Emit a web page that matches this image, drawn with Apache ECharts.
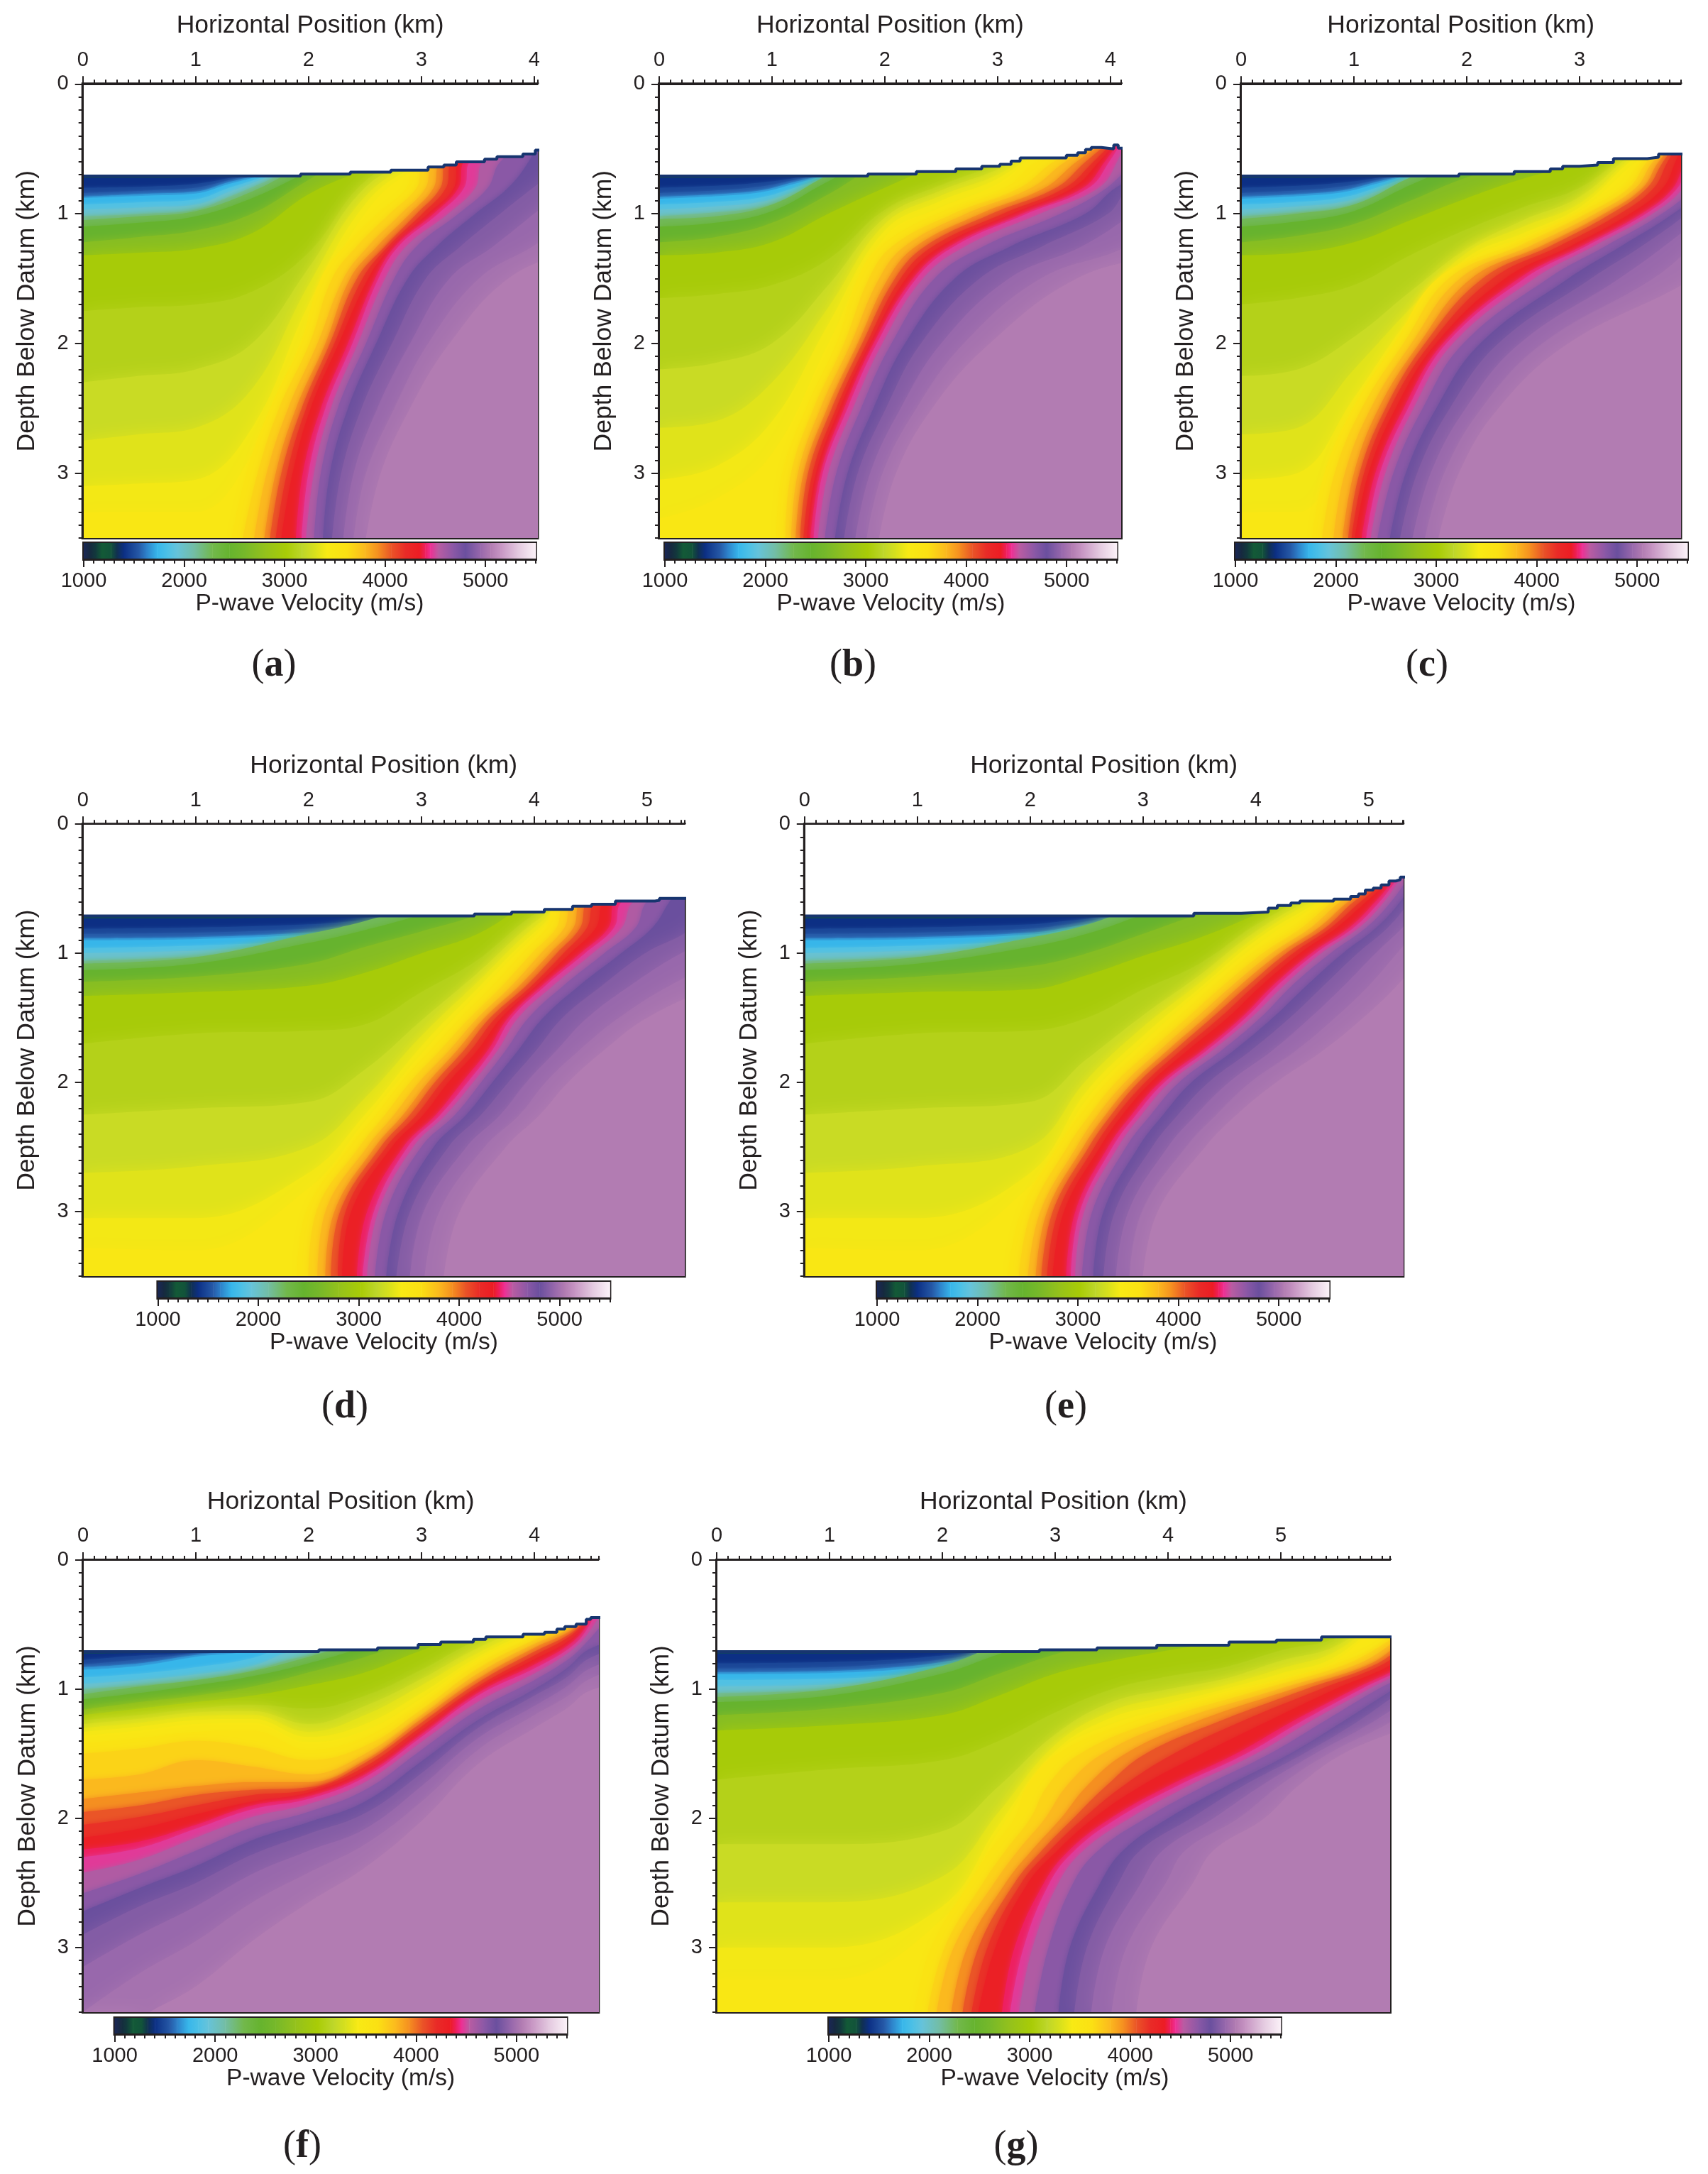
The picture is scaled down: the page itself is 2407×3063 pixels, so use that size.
<!DOCTYPE html>
<html>
<head>
<meta charset="utf-8">
<title>P-wave velocity models</title>
<script src="https://cdn.jsdelivr.net/npm/echarts@6/dist/echarts.min.js"></script>
<style>html,body{margin:0;background:#fff}#chart{width:2407px;height:3063px}</style>
</head>
<body>
<div id="chart"></div>
<script>
// colour scale of the velocity bar
var paletteV = [1000,1060,1120,1180,1270,1330,1400,1550,1620,1730,1830,1930,2100,2280,2450,2600,2800,3020,3170,3300,3420,3620,3800,3930,4060,4200,4340,4400,4450,4530,4680,4800,4950,5050,5150,5320,5500];
var paletteC = ['#1a2755','#16293f','#123a3c','#135a37','#12533a','#103050','#0c2f84','#265aa8','#2d7fc8','#37b6ea','#4cc0e6','#66c3da','#73bda4','#72b84c','#66b32e','#76b82a','#94c11c','#a9cc06','#bdd62a','#d8e01c','#f8ea14','#fbe013','#fbb91e','#f58f20','#ea5527','#e92b27','#ec1c24','#ee1f60','#ee2f94','#b95ca2','#8a58a6','#6a4f9e','#9868ac','#b27cb2','#c795c3','#e3c8df','#fbf2f8'];
var barTicks = [1000,2000,3000,4000,5000];
var depthTicks = [0,1,2,3];

// iso-velocity levels (m/s)
var upperLevels = [1400,1480,1550,1650,1730,1850,1950,2100];
var midLevels = [2250,2450,2700,3000,3100,3230,3330,3400,3480];
var frontLevels = [3560,3680,3800,3930,4060,4180,4300,4400,4470,4560,4680,4800,4880,4950,5000,5050];

// panel a: surface steps, then depth of each level per x, then x of each level per depth
var aSurfaceX = [0,1.93,2.37,2.73,3.06,3.2,3.31,3.56,3.67,3.9,4.01,4.07];
var aSurfaceD = [.71,.695,.68,.665,.64,.625,.6,.58,.56,.54,.51,.51];
var aUpperX = [0,.6,1,1.3,1.6,1.9];
var aUpperD = [[.725,.8,.84,.87,.88,.93,.97,1.02],[.725,.79,.82,.845,.86,.91,.95,1],[.72,.77,.8,.83,.845,.89,.93,.97],[.715,.725,.74,.755,.77,.8,.83,.87],[.66,.67,.68,.69,.7,.715,.73,.76],[.6,.6,.6,.6,.6,.6,.62,.65]];
var aMidX = [0,.5,1,1.5,2,2.5,3];
var aMidD = [[1.05,1.1,1.22,1.32,1.75,2.3,2.75,3.1,3.3],[1.02,1.07,1.18,1.3,1.72,2.25,2.7,3.08,3.3],[.98,1.02,1.13,1.27,1.7,2.2,2.65,3.05,3.3],[.83,.88,1,1.15,1.6,2,2.35,2.65,2.85],[.62,.68,.74,.85,1.3,1.42,1.55,1.7,1.85],[.5,.5,.5,.66,.75,.8,.87,.93,1],[.5,.5,.5,.5,.55,.58,.6,.62,.64]];
var aFrontD = [3.5,3,2.5,2,1.5,1.25,1,.8,.6];
var aFrontX = [[1.32,1.42,1.52,1.61,1.66,1.71,1.76,1.89,1.94,1.98,2.05,2.13,2.21,2.31,2.4,2.51],
[1.45,1.55,1.63,1.71,1.76,1.81,1.86,1.95,2,2.05,2.11,2.19,2.29,2.4,2.51,2.64],
[1.66,1.74,1.82,1.89,1.94,1.98,2.02,2.11,2.15,2.2,2.26,2.35,2.47,2.61,2.76,2.9],
[1.93,2.01,2.08,2.15,2.19,2.23,2.27,2.35,2.39,2.44,2.51,2.6,2.74,2.9,3.06,3.25],
[2.11,2.21,2.31,2.37,2.43,2.48,2.53,2.59,2.62,2.68,2.76,2.88,3.04,3.25,3.51,3.77],
[2.32,2.43,2.53,2.61,2.68,2.71,2.74,2.77,2.8,2.87,2.96,3.14,3.35,3.64,3.99,4.4],
[2.61,2.72,2.82,2.9,2.96,3.01,3.06,3.11,3.15,3.24,3.33,3.48,3.7,4,4.41,4.9],
[2.87,2.96,3.04,3.11,3.17,3.22,3.29,3.33,3.38,3.48,3.59,3.77,3.99,4.28,4.73,5.4],
[2.95,3.03,3.1,3.17,3.22,3.27,3.33,3.38,3.43,3.55,3.7,3.95,4.3,4.8,5.2,5.6]];

// panel b
var bSurfaceX = [0,1.85,2.28,2.63,2.86,3.02,3.12,3.2,3.61,3.71,3.78,3.83,3.92,4.03,4.07,4.12];
var bSurfaceD = [.71,.695,.675,.655,.635,.62,.595,.57,.55,.53,.505,.49,.5,.47,.495,.495];
var bUpperX = [0,.5,.9,1.2,1.5,1.8];
var bUpperD = [[.725,.8,.84,.87,.885,.93,.97,1.02],[.725,.785,.82,.85,.865,.91,.945,.99],[.72,.76,.79,.82,.835,.875,.91,.95],[.715,.725,.74,.755,.77,.8,.83,.87],[.66,.67,.68,.69,.695,.71,.73,.76],[.6,.6,.6,.6,.6,.6,.62,.65]];
var bMidX = [0,.5,1,1.5,2,2.5,3,3.5];
var bMidD = [[1.04,1.1,1.22,1.32,1.65,2.2,2.65,3.05,3.35],[1.02,1.07,1.18,1.3,1.62,2.15,2.6,2.95,3.2],[.93,.98,1.07,1.22,1.55,2,2.3,2.6,2.85],[.7,.75,.85,1,1.35,1.55,1.72,1.85,2],[.5,.55,.6,.8,.97,1.03,1.08,1.13,1.18],[.5,.5,.5,.62,.78,.82,.86,.9,.95],[.5,.5,.5,.5,.62,.66,.7,.73,.77],[.45,.45,.45,.45,.45,.45,.45,.45,.45]];
var bFrontD = [3.5,3,2.5,2,1.5,1.25,1,.8,.6];
var bFrontX = [[1.04,1.12,1.17,1.21,1.25,1.28,1.31,1.34,1.37,1.41,1.47,1.56,1.64,1.74,1.84,1.95],
[1.09,1.17,1.23,1.28,1.32,1.36,1.39,1.43,1.45,1.5,1.57,1.67,1.76,1.87,1.98,2.1],
[1.3,1.37,1.43,1.49,1.53,1.57,1.6,1.64,1.67,1.72,1.79,1.9,2.01,2.14,2.28,2.42],
[1.57,1.64,1.7,1.76,1.8,1.84,1.87,1.9,1.93,1.98,2.06,2.18,2.32,2.5,2.7,2.93],
[1.76,1.86,1.95,2.03,2.09,2.14,2.19,2.25,2.28,2.34,2.44,2.62,2.84,3.1,3.38,3.7],
[1.96,2.07,2.18,2.28,2.36,2.43,2.5,2.58,2.62,2.72,2.88,3.12,3.4,3.75,4.15,4.6],
[2.47,2.61,2.72,2.85,2.95,3.05,3.13,3.22,3.26,3.38,3.56,3.78,3.98,4.2,4.5,4.9],
[3.07,3.2,3.3,3.42,3.52,3.6,3.67,3.76,3.81,3.9,3.97,4.05,4.18,4.5,4.9,5.4],
[3.35,3.5,3.6,3.7,3.78,3.85,3.9,3.95,3.99,4.06,4.2,4.5,4.9,5.4,5.8,6.2]];

// panel c
var cSurfaceX = [0,1.93,2.42,2.74,2.85,3,3.16,3.3,3.6,3.7,3.92];
var cSurfaceD = [.71,.695,.675,.655,.635,.625,.605,.575,.565,.54,.54];
var cUpperX = [0,.5,.9,1.2,1.5,1.8];
var cUpperD = [[.725,.8,.84,.87,.885,.93,.97,1.02],[.725,.785,.82,.85,.865,.91,.945,.99],[.72,.76,.79,.82,.835,.875,.91,.95],[.715,.725,.74,.755,.77,.8,.83,.87],[.66,.67,.68,.69,.695,.71,.73,.76],[.6,.6,.6,.6,.6,.6,.62,.65]];
var cMidX = [0,.5,1,1.5,2,2.5,3,3.5];
var cMidD = [[1.04,1.1,1.22,1.32,1.7,2.25,2.7,3.05,3.3],[1,1.06,1.17,1.3,1.65,2.2,2.65,3,3.3],[.93,.98,1.08,1.22,1.55,1.95,2.2,2.42,2.55],[.72,.78,.9,1.05,1.32,1.6,1.73,1.8,1.88],[.55,.6,.72,.88,1.12,1.27,1.3,1.34,1.37],[.5,.5,.6,.73,.95,1.05,1.1,1.15,1.18],[.5,.5,.5,.62,.8,.87,.92,.95,.98],[.5,.5,.5,.5,.5,.52,.54,.56,.6]];
var cFrontD = [3.5,3,2.5,2,1.5,1.25,1,.8,.6];
var cFrontX = [[.63,.72,.82,.9,.95,.98,1.01,1.07,1.11,1.15,1.21,1.32,1.41,1.52,1.63,1.75],
[.74,.83,.92,1,1.05,1.09,1.13,1.19,1.23,1.28,1.35,1.46,1.56,1.68,1.8,1.93],
[.99,1.07,1.15,1.22,1.28,1.32,1.37,1.44,1.48,1.53,1.61,1.73,1.85,1.99,2.13,2.28],
[1.36,1.44,1.51,1.58,1.63,1.68,1.73,1.79,1.82,1.88,1.97,2.12,2.28,2.47,2.67,2.9],
[1.74,1.84,1.94,2.04,2.14,2.23,2.34,2.46,2.51,2.6,2.72,2.9,3.1,3.35,3.65,4],
[2.36,2.46,2.56,2.66,2.74,2.82,2.92,3.02,3.06,3.13,3.23,3.37,3.55,3.75,4,4.3],
[2.97,3.06,3.14,3.22,3.28,3.36,3.45,3.55,3.59,3.65,3.73,3.83,3.95,4.1,4.3,4.5],
[3.37,3.44,3.5,3.56,3.6,3.66,3.74,3.83,3.87,3.92,4,4.1,4.2,4.3,4.5,4.7],
[3.55,3.6,3.65,3.7,3.74,3.78,3.85,3.92,3.96,4,4.1,4.2,4.3,4.4,4.6,4.8]];

// panel d
var dSurfaceX = [0,3.47,3.8,4.09,4.34,4.51,4.72,5.07,5.11,5.36];
var dSurfaceD = [.71,.695,.68,.66,.635,.62,.595,.59,.575,.575];
var dUpperX = [0,1,2,2.4,2.7,3,3.3];
var dUpperD = [[.73,.81,.85,.885,.9,.96,1,1.06],[.73,.8,.84,.875,.89,.94,.98,1.03],[.72,.775,.81,.84,.855,.9,.94,.985],[.715,.75,.78,.805,.82,.86,.895,.94],[.71,.72,.735,.755,.77,.8,.84,.885],[.65,.66,.67,.68,.69,.71,.73,.76],[.6,.6,.6,.6,.6,.6,.6,.6]];
var dMidX = [0,1,2,2.5,3,3.5,4,4.5];
var dMidD = [[1.08,1.13,1.22,1.33,1.7,2.25,2.7,3.05,3.28],[1.03,1.08,1.18,1.3,1.62,2.2,2.65,3.05,3.3],[.85,.92,1.08,1.25,1.6,2.15,2.5,2.7,2.82],[.75,.82,.95,1.15,1.55,1.9,2.12,2.25,2.3],[.62,.7,.83,1,1.3,1.52,1.64,1.72,1.78],[.5,.55,.7,.85,1.05,1.15,1.22,1.27,1.31],[.5,.5,.5,.6,.7,.76,.8,.84,.87],[.5,.5,.5,.5,.5,.5,.5,.5,.5]];
var dFrontD = [3.5,3,2.5,2.25,2,1.75,1.5,1.25,1,.8,.6];
var dFrontX = [[1.9,2,2.08,2.15,2.2,2.26,2.3,2.43,2.48,2.52,2.59,2.69,2.78,2.9,3.03,3.2],
[1.98,2.07,2.15,2.23,2.28,2.33,2.38,2.52,2.58,2.62,2.69,2.8,2.9,3.02,3.16,3.34],
[2.36,2.45,2.52,2.59,2.64,2.69,2.74,2.84,2.88,2.93,3,3.11,3.24,3.4,3.56,3.75],
[2.6,2.68,2.76,2.84,2.9,2.96,3.02,3.13,3.17,3.22,3.3,3.4,3.53,3.7,3.87,4.05],
[2.82,2.9,2.98,3.06,3.12,3.18,3.24,3.36,3.41,3.46,3.53,3.63,3.77,3.93,4.1,4.3],
[3.08,3.17,3.25,3.32,3.38,3.44,3.5,3.59,3.63,3.68,3.75,3.86,4.02,4.2,4.4,4.62],
[3.35,3.43,3.5,3.56,3.61,3.66,3.71,3.77,3.8,3.86,3.95,4.08,4.25,4.47,4.75,5],
[3.63,3.72,3.8,3.87,3.93,3.98,4.02,4.07,4.1,4.17,4.26,4.4,4.6,4.85,5.2,5.6],
[3.89,3.98,4.06,4.14,4.2,4.26,4.32,4.41,4.45,4.52,4.62,4.77,4.98,5.3,5.8,6.3],
[4.11,4.2,4.27,4.35,4.41,4.47,4.55,4.66,4.71,4.78,4.9,5.05,5.4,5.8,6.2,6.6],
[4.2,4.28,4.35,4.42,4.48,4.55,4.63,4.72,4.78,4.88,5,5.2,5.5,6,6.4,6.8]];

// panel e
var eSurfaceX = [0,3.45,3.87,4.11,4.19,4.31,4.39,4.69,4.84,4.91,4.97,5.04,5.11,5.18,5.24,5.28,5.33];
var eSurfaceD = [.71,.69,.68,.65,.63,.61,.595,.58,.56,.54,.51,.495,.47,.44,.43,.41,.41];
var eUpperX = [0,1,2,2.3,2.6,2.9,3.2];
var eUpperD = [[.73,.81,.85,.885,.9,.96,1,1.06],[.73,.8,.84,.875,.89,.94,.98,1.03],[.72,.775,.81,.84,.855,.9,.94,.985],[.715,.75,.78,.805,.82,.86,.895,.94],[.71,.72,.735,.755,.77,.8,.84,.885],[.65,.66,.67,.68,.69,.71,.73,.76],[.6,.6,.6,.6,.6,.6,.6,.6]];
var eMidX = [0,1,2,2.5,3,3.5,4,4.5,5];
var eMidD = [[1.08,1.13,1.22,1.33,1.7,2.25,2.7,3.05,3.28],[1.03,1.08,1.18,1.3,1.62,2.2,2.65,3.05,3.3],[.88,.95,1.1,1.28,1.6,2.15,2.5,2.7,2.8],[.78,.85,1,1.17,1.5,1.82,1.98,2.07,2.13],[.62,.7,.85,1.02,1.28,1.48,1.57,1.64,1.69],[.5,.55,.7,.88,1.08,1.17,1.23,1.27,1.3],[.5,.5,.6,.7,.78,.83,.87,.9,.94],[.5,.5,.5,.5,.55,.58,.6,.63,.65],[.4,.4,.4,.4,.4,.4,.4,.4,.4]];
var eFrontD = [3.5,3,2.5,2.25,2,1.75,1.5,1.25,1,.8,.6,.4];
var eFrontX = [[1.8,1.9,1.98,2.05,2.1,2.15,2.2,2.32,2.36,2.4,2.46,2.56,2.65,2.76,2.88,3],
[1.92,2.01,2.09,2.15,2.2,2.25,2.3,2.4,2.44,2.48,2.55,2.65,2.75,2.87,2.99,3.13],
[2.24,2.33,2.41,2.47,2.52,2.57,2.62,2.69,2.73,2.78,2.85,2.96,3.08,3.22,3.38,3.55],
[2.44,2.53,2.6,2.67,2.72,2.77,2.82,2.9,2.94,2.99,3.07,3.18,3.31,3.47,3.65,3.83],
[2.68,2.76,2.84,2.91,2.96,3.02,3.07,3.15,3.19,3.24,3.32,3.43,3.58,3.76,3.95,4.18],
[2.99,3.07,3.15,3.22,3.28,3.34,3.4,3.53,3.57,3.62,3.7,3.81,3.96,4.15,4.36,4.6],
[3.31,3.39,3.47,3.55,3.61,3.68,3.75,3.87,3.91,3.96,4.04,4.15,4.3,4.48,4.7,4.95],
[3.63,3.71,3.79,3.86,3.93,3.99,4.05,4.15,4.19,4.25,4.32,4.45,4.6,4.78,5,5.25],
[3.97,4.06,4.14,4.21,4.27,4.33,4.39,4.49,4.53,4.58,4.66,4.77,4.9,5.06,5.25,5.5],
[4.33,4.41,4.49,4.56,4.62,4.67,4.72,4.83,4.87,4.92,4.98,5.07,5.17,5.3,5.45,5.7],
[4.61,4.68,4.75,4.82,4.87,4.93,4.98,5.06,5.1,5.14,5.2,5.28,5.36,5.5,5.7,5.9],
[4.9,5,5.1,5.15,5.2,5.22,5.24,5.26,5.28,5.3,5.36,5.42,5.5,5.6,5.7,5.95]];

// panel f: the front is better read as depth per x here
var fSurfaceX = [0,2.09,2.61,2.97,3.17,3.46,3.57,3.9,4.09,4.2,4.27,4.37,4.46,4.5,4.6];
var fSurfaceD = [.71,.695,.68,.655,.635,.615,.595,.575,.56,.535,.515,.497,.46,.445,.445];
var fUpperX = [0,.5,1,1.5,1.8,2.1,2.4];
var fUpperD = [[.725,.775,.81,.83,.85,.91,.96,1],[.72,.74,.77,.8,.82,.88,.93,.97],[.71,.72,.725,.735,.75,.83,.885,.93],[.66,.67,.68,.69,.7,.76,.82,.855],[.6,.6,.6,.6,.6,.66,.72,.78],[.6,.6,.6,.6,.6,.6,.66,.71],[.58,.58,.58,.58,.58,.58,.58,.58]];
var fMidX = [0,.5,1,1.5,2,2.5,3,3.5,4];
var fMidD = [[1.04,1.08,1.16,1.2,1.24,1.27,1.3,1.33,1.36],[.98,1.03,1.1,1.15,1.2,1.23,1.26,1.29,1.32],[.93,.97,1.05,1.1,1.15,1.18,1.21,1.24,1.27],[.86,.9,.98,1.05,1.12,1.17,1.2,1.23,1.26],[.75,.8,.87,.97,1.15,1.27,1.33,1.37,1.41],[.62,.67,.75,.87,1.05,1.13,1.2,1.27,1.32],[.5,.5,.6,.7,.85,.92,.97,1.03,1.07],[.5,.5,.5,.55,.62,.68,.72,.75,.77],[.5,.5,.5,.5,.5,.5,.52,.54,.56]];
var fFrontGridX = [0,.5,1,1.5,2,2.5,3,3.5,4,4.3,4.45,4.6];
var fFrontGridD = [[1.42,1.5,1.7,1.85,1.95,2.05,2.15,2.24,2.3,2.42,2.58,2.72,2.9,3.15,3.5,3.9],
[1.38,1.46,1.66,1.8,1.9,1.99,2.08,2.18,2.23,2.32,2.43,2.54,2.68,2.9,3.2,3.55],
[1.33,1.4,1.55,1.75,1.82,1.9,1.97,2.05,2.08,2.15,2.25,2.37,2.5,2.68,2.95,3.3],
[1.32,1.45,1.6,1.72,1.78,1.82,1.87,1.9,1.93,1.99,2.07,2.17,2.28,2.43,2.65,2.95],
[1.47,1.55,1.66,1.72,1.76,1.78,1.8,1.83,1.85,1.89,1.95,2.03,2.12,2.25,2.42,2.65],
[1.37,1.44,1.5,1.55,1.57,1.6,1.63,1.66,1.68,1.72,1.78,1.87,1.96,2.08,2.2,2.38],
[1.11,1.16,1.2,1.23,1.26,1.29,1.32,1.35,1.37,1.41,1.47,1.56,1.65,1.75,1.87,2.02],
[.8,.84,.88,.92,.95,.98,1,1.03,1.05,1.1,1.16,1.24,1.3,1.38,1.47,1.58],
[.6,.62,.65,.68,.71,.74,.77,.81,.84,.88,.93,1,1.05,1.13,1.2,1.3],
[.5,.52,.54,.56,.58,.6,.63,.66,.69,.72,.77,.83,.9,.97,1.05,1.14],
[.4,.42,.44,.46,.47,.48,.5,.53,.56,.6,.65,.71,.78,.86,.94,1.03],
[.3,.3,.3,.3,.3,.3,.3,.3,.3,.4,.5,.65,.72,.8,.88,.98]];

// panel g
var gSurfaceX = [0,2.86,3.37,3.9,4.54,4.96,5.36,6];
var gSurfaceD = [.71,.695,.68,.66,.635,.62,.595,.595];
var gUpperX = [0,1,1.6,2,2.3,2.5,2.8];
var gUpperD = [[.725,.8,.84,.87,.885,.93,.98,1.03],[.725,.79,.83,.86,.875,.92,.965,1.01],[.72,.77,.8,.83,.85,.89,.93,.975],[.715,.74,.77,.79,.81,.85,.885,.93],[.71,.715,.725,.74,.755,.785,.82,.86],[.65,.66,.67,.68,.69,.72,.74,.78],[.6,.6,.6,.6,.6,.6,.6,.6]];
var gMidX = [0,1,2,2.5,3,3.5,4,4.5,5,5.5];
var gMidD = [[1.06,1.1,1.2,1.32,1.7,2.2,2.65,3,3.25],[1,1.05,1.15,1.28,1.62,2.2,2.65,3,3.25],[.82,.88,1.03,1.2,1.55,2.1,2.45,2.68,2.78],[.66,.73,.88,1.05,1.4,1.75,1.95,2.05,2.1],[.55,.6,.73,.88,1.18,1.35,1.43,1.48,1.5],[.5,.5,.63,.78,1,1.1,1.17,1.22,1.27],[.5,.5,.55,.7,.9,1,1.06,1.11,1.15],[.5,.5,.5,.63,.83,.92,.97,1,1.02],[.5,.5,.5,.55,.7,.78,.84,.88,.92],[.45,.45,.45,.45,.6,.66,.7,.74,.77]];
var gFrontD = [3.5,3,2.5,2.25,2,1.75,1.5,1.25,1,.8,.6];
var gFrontX = [[1.75,1.87,1.95,2.08,2.18,2.26,2.32,2.53,2.6,2.68,2.82,3.03,3.17,3.32,3.5,3.72],
[1.9,2.02,2.1,2.22,2.32,2.4,2.47,2.64,2.72,2.8,2.94,3.13,3.28,3.44,3.63,3.85],
[2.24,2.36,2.46,2.56,2.64,2.7,2.76,2.9,2.95,3.03,3.16,3.4,3.56,3.76,3.98,4.22],
[2.42,2.56,2.67,2.79,2.88,2.95,3.02,3.12,3.17,3.25,3.38,3.6,3.75,3.95,4.15,4.4],
[2.64,2.78,2.91,3.05,3.16,3.25,3.34,3.49,3.55,3.66,3.8,4,4.2,4.4,4.62,4.85],
[2.75,2.93,3.1,3.28,3.45,3.6,3.76,4,4.08,4.18,4.32,4.52,4.66,4.82,4.98,5.15],
[3.02,3.22,3.42,3.62,3.8,4.05,4.3,4.6,4.69,4.78,4.9,5.08,5.2,5.3,5.42,5.55],
[3.68,3.88,4.06,4.25,4.45,4.65,4.88,5.1,5.18,5.26,5.38,5.55,5.68,5.82,5.98,6.2],
[4.69,4.84,4.98,5.1,5.22,5.35,5.48,5.65,5.71,5.78,5.86,6,6.1,6.25,6.4,6.6],
[5.49,5.6,5.7,5.8,5.86,5.92,6,6.1,6.15,6.2,6.3,6.4,6.5,6.6,6.8,7],
[5.95,6,6.05,6.1,6.15,6.2,6.25,6.3,6.35,6.4,6.45,6.5,6.6,6.7,6.9,7.1]];

var ink = '#231f20';
var font = '"Liberation Sans", Arial, sans-serif';

var panels = [
  {tag:'a', xMax:4.03, xTicks:[0,1,2,3,4], plot:[116.7,118.3,640.8,639.7], bar:[118,765,637], cap:[381,906],
   surfX:aSurfaceX, surfD:aSurfaceD, upX:aUpperX, upD:aUpperD, midX:aMidX, midD:aMidD, frontD:aFrontD, frontX:aFrontX},
  {tag:'b', xMax:4.096, xTicks:[0,1,2,3,4], plot:[929,118.3,651,639.7], bar:[937,765,637], cap:[1197,906],
   surfX:bSurfaceX, surfD:bSurfaceD, upX:bUpperX, upD:bUpperD, midX:bMidX, midD:bMidD, frontD:bFrontD, frontX:bFrontX},
  {tag:'c', xMax:3.896, xTicks:[0,1,2,3], plot:[1749,118.3,619.5,639.7], bar:[1741,765,637], cap:[2006,906],
   surfX:cSurfaceX, surfD:cSurfaceD, upX:cUpperX, upD:cUpperD, midX:cMidX, midD:cMidD, frontD:cFrontD, frontX:cFrontX},
  {tag:'d', xMax:5.333, xTicks:[0,1,2,3,4,5], plot:[116.7,1161.2,848,636.8], bar:[222.4,1806,637], cap:[481,1951],
   surfX:dSurfaceX, surfD:dSurfaceD, upX:dUpperX, upD:dUpperD, midX:dMidX, midD:dMidD, frontD:dFrontD, frontX:dFrontX},
  {tag:'e', xMax:5.305, xTicks:[0,1,2,3,4,5], plot:[1133.8,1161.2,843.5,636.8], bar:[1236,1806,637], cap:[1497,1951],
   surfX:eSurfaceX, surfD:eSurfaceD, upX:eUpperX, upD:eUpperD, midX:eMidX, midD:eMidD, frontD:eFrontD, frontX:eFrontX},
  {tag:'f', xMax:4.568, xTicks:[0,1,2,3,4], plot:[117,2197.9,726.3,637], bar:[161.6,2843,637], cap:[421,2993],
   surfX:fSurfaceX, surfD:fSurfaceD, upX:fUpperX, upD:fUpperD, midX:fMidX, midD:fMidD, gridX:fFrontGridX, gridD:fFrontGridD},
  {tag:'g', xMax:5.968, xTicks:[0,1,2,3,4,5], plot:[1010,2197.9,949,637], bar:[1168,2843,637], cap:[1427,2993],
   surfX:gSurfaceX, surfD:gSurfaceD, upX:gUpperX, upD:gUpperD, midX:gMidX, midD:gMidD, frontD:gFrontD, frontX:gFrontX}
];

function velocityColor(v){
  for (var i = 1; i < paletteV.length; i++) {
    if (v <= paletteV[i]) {
      return echarts.color.lerp((v - paletteV[i-1]) / (paletteV[i] - paletteV[i-1]), [paletteC[i-1], paletteC[i]]);
    }
  }
  return paletteC[paletteC.length - 1];
}

// one column of a depth-per-x table
function depthPerX(xs, rows, k){
  return xs.map(function(x, i){ return [x, rows[i][k]]; });
}
// one column of an x-per-depth table
function xPerDepth(ds, rows, k){
  return ds.map(function(d, i){ return [rows[i][k], d]; });
}
function plainNumber(v){ return String(v); }

var grid = [], xAxis = [], yAxis = [], series = [], title = [];

function axisBase(extra){
  return Object.assign({type:'value', z:5, silent:true, splitLine:{show:false},
    axisLine:{onZero:false, lineStyle:{color:ink, width:2}},
    axisTick:{lineStyle:{color:ink, width:2}, inside:false}}, extra);
}

function addPanel(p){
  var g = grid.length;
  grid.push({left:p.plot[0], top:p.plot[1], width:p.plot[2], height:p.plot[3], show:true, borderColor:ink, borderWidth:4, backgroundColor:'#fff'});
  var xi = xAxis.length, yi = yAxis.length;
  var labelStyle = {color:ink, fontFamily:font, fontSize:29};
  // major ticks and labels
  xAxis.push(axisBase({gridIndex:g, position:'top', min:0, max:p.xMax, name:'Horizontal Position (km)', nameLocation:'middle', nameGap:82,
    nameTextStyle:{color:ink, fontFamily:font, fontSize:35.5, verticalAlign:'middle'},
    axisTick:{length:11, customValues:p.xTicks, lineStyle:{color:ink, width:2}},
    axisLabel:Object.assign({margin:19, customValues:p.xTicks}, labelStyle)}));
  yAxis.push(axisBase({gridIndex:g, position:'left', inverse:true, min:0, max:3.5, name:'Depth Below Datum (km)', nameLocation:'middle', nameGap:78,
    nameTextStyle:{color:ink, fontFamily:font, fontSize:35.5, verticalAlign:'middle'},
    axisTick:{length:11, customValues:depthTicks, lineStyle:{color:ink, width:2}},
    axisLabel:Object.assign({margin:20, customValues:depthTicks}, labelStyle)}));
  // minor ticks
  xAxis.push(axisBase({gridIndex:g, position:'top', min:0, max:p.xMax, interval:.1, axisTick:{length:6, lineStyle:{color:ink, width:2}}, axisLabel:{show:false}}));
  yAxis.push(axisBase({gridIndex:g, position:'left', inverse:true, min:0, max:3.5, interval:.1, axisTick:{length:6, lineStyle:{color:ink, width:2}}, axisLabel:{show:false}}));

  // blur softens the step between one level and the next
  function addContour(points, color, blur){
    var last = points[points.length - 1];
    if (last[0] < p.xMax) points = points.concat([[p.xMax + .1, .3]]);
    series.push({type:'line', xAxisIndex:xi, yAxisIndex:yi, data:points, smooth:.4, showSymbol:false, silent:true,
      animation:false, lineStyle:{width:0}, areaStyle:{color:color, opacity:1, origin:'end', shadowBlur:blur, shadowColor:color}});
  }
  addContour([[0,.3],[p.xMax + .1,.3]], velocityColor(1180), 0);
  upperLevels.forEach(function(v, k){ addContour(depthPerX(p.upX, p.upD, k), velocityColor(v), 5); });
  midLevels.forEach(function(v, k){ addContour(depthPerX(p.midX, p.midD, k), velocityColor(v), k < 3 ? 14 : 24); });
  frontLevels.forEach(function(v, k){
    addContour(p.gridX ? depthPerX(p.gridX, p.gridD, k) : xPerDepth(p.frontD, p.frontX, k), velocityColor(v), k > 11 ? 24 : 8);
  });
  // free surface: everything above it is blanked
  series.push({type:'line', xAxisIndex:xi, yAxisIndex:yi, step:'end', showSymbol:false, silent:true, animation:false,
    data:p.surfX.map(function(x, i){ return [x, p.surfD[i]]; }),
    lineStyle:{color:'#17356f', width:4}, areaStyle:{color:'#fff', opacity:1, origin:'start'}});

  // colour bar
  var gb = grid.length;
  grid.push({left:p.bar[0], top:p.bar[1], width:p.bar[2], height:23, show:true, borderColor:ink, borderWidth:4});
  var bx = xAxis.length, by = yAxis.length;
  xAxis.push(axisBase({gridIndex:gb, position:'bottom', min:1000, max:5500, name:'P-wave Velocity (m/s)', nameLocation:'middle', nameGap:55,
    nameTextStyle:{color:ink, fontFamily:font, fontSize:33.5, verticalAlign:'middle'},
    axisTick:{length:11, customValues:barTicks, lineStyle:{color:ink, width:2}},
    axisLabel:Object.assign({margin:16, customValues:barTicks, formatter:plainNumber}, labelStyle)}));
  xAxis.push(axisBase({gridIndex:gb, position:'bottom', min:1000, max:5500, interval:100, axisTick:{length:6, lineStyle:{color:ink, width:2}}, axisLabel:{show:false}}));
  yAxis.push({type:'value', gridIndex:gb, min:0, max:1, show:false});
  series.push({type:'custom', xAxisIndex:bx, yAxisIndex:by, silent:true, animation:false,
    data:paletteV.slice(1).map(function(v, i){ return [paletteV[i], v, i]; }),
    encode:{x:[0,1]},
    renderItem:function(params, api){
      var a = api.coord([api.value(0), 1]), b = api.coord([api.value(1), 0]), i = api.value(2);
      return {type:'rect', shape:{x:a[0], y:a[1], width:b[0] - a[0] + .5, height:b[1] - a[1]},
        style:{fill:new echarts.graphic.LinearGradient(0, 0, 1, 0, [{offset:0, color:paletteC[i]}, {offset:1, color:paletteC[i+1]}])}};
    }});

  title.push({text:'{p|(}{b|' + p.tag + '}{p|)}', left:p.cap[0], top:p.cap[1], textAlign:'center',
    textStyle:{rich:{p:{fontFamily:'"Liberation Serif", serif', fontWeight:'normal', fontSize:54, color:ink}, b:{fontFamily:'"Liberation Serif", serif', fontWeight:'bold', fontSize:54, color:ink}}}});
}

panels.forEach(addPanel);

var myChart = echarts.init(document.getElementById('chart'), null, {renderer:'canvas'});
myChart.setOption({backgroundColor:'#fff', animation:false, title:title, grid:grid, xAxis:xAxis, yAxis:yAxis, series:series});
</script>
</body>
</html>
